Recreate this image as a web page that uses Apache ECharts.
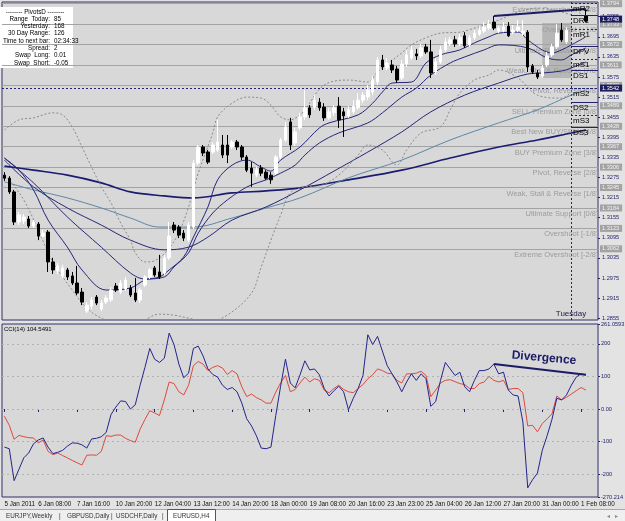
<!DOCTYPE html>
<html>
<head>
<meta charset="utf-8">
<script src="https://cdn.jsdelivr.net/npm/echarts@6/dist/echarts.min.js"></script>
<style>
html, body { margin: 0; padding: 0; background: #e3e3e3; }
#chart { width: 625px; height: 521px; }
</style>
</head>
<body>
<div id="chart"></div>
<script>
// EURUSD H4 - candles, moving averages, bollinger, murrey lines, CCI(14)
const slotCount = 123;
const tickBars = [0, 7, 15, 23, 31, 39, 47, 55, 63, 71, 79, 87, 95, 103, 111, 119];
const tickLabels = ['5 Jan 2011', '6 Jan 08:00', '7 Jan 16:00', '10 Jan 20:00', '12 Jan 04:00',
  '13 Jan 12:00', '14 Jan 20:00', '18 Jan 00:00', '19 Jan 08:00', '20 Jan 16:00', '23 Jan 23:00',
  '25 Jan 04:00', '26 Jan 12:00', '27 Jan 20:00', '31 Jan 00:00', '1 Feb 08:00'];

// [open, close, low, high]; bars hidden behind the pivot labels are left empty
const candles = [
  [1.3282,1.3273,1.3265,1.3291],[1.3273,1.3232,1.3226,1.3279],[1.3232,1.3142,1.3133,1.3238],
  [1.3142,1.3163,1.3133,1.3172],[1.3145,1.3157,1.3136,1.3166],[1.3151,1.3130,1.3124,1.3160],
  [1.3130,1.3142,1.3124,1.3148],[1.3136,1.3100,1.3088,1.3142],[1.3100,1.3109,1.3094,1.3118],
  [1.3112,1.3023,1.2993,1.3118],[1.3023,1.2999,1.2987,1.3035],[1.2996,1.3011,1.2987,1.3020],
  [1.2981,1.3005,1.2975,1.3014],[1.2999,1.2978,1.2969,1.3005],[1.2981,1.2960,1.2954,1.2993],
  [1.2960,1.2930,1.2924,1.3011],[1.2933,1.2903,1.2894,1.2945],[1.2876,1.2894,1.2870,1.2903],
  [1.2891,1.2909,1.2882,1.2918],[1.2918,1.2900,1.2894,1.2924],[1.2882,1.2900,1.2876,1.2909],
  [1.2903,1.2915,1.2897,1.2924],[1.2909,1.2939,1.2903,1.2948],[1.2951,1.2939,1.2933,1.2960],
  [1.2933,1.2960,1.2927,1.2969],[1.2942,1.2969,1.2936,1.2978],[1.2945,1.2924,1.2918,1.2954],
  [1.2930,1.2909,1.2903,1.2975],[1.2909,1.2939,1.2900,1.2945],[1.2954,1.2978,1.2948,1.2984],
  [1.2978,1.2999,1.2972,1.3005],[1.3005,1.2984,1.2978,1.3011],[1.2993,1.2978,1.2972,1.3044],
  [1.2990,1.3035,1.2984,1.3044],[1.3035,1.3100,1.3029,1.3142],[1.3133,1.3118,1.3109,1.3142],
  [1.3127,1.3103,1.3094,1.3133],[1.3109,1.3094,1.3085,1.3118],[1.3088,1.3133,1.3082,1.3142],
  [1.3127,1.3318,1.3121,1.3327],[1.3318,1.3366,1.3312,1.3372],[1.3366,1.3348,1.3339,1.3372],
  [1.3351,1.3321,1.3315,1.3357],[1.3351,1.3372,1.3345,1.3381],[1.3357,1.3381,1.3351,1.3447],
  [1.3372,1.3342,1.3333,1.3402],[1.3372,1.3342,1.3318,1.3402],[1.3366,1.3381,1.3360,1.3387],
  [1.3381,1.3366,1.3357,1.3387],[1.3366,1.3336,1.3327,1.3372],[1.3336,1.3297,1.3291,1.3342],
  [1.3303,1.3288,1.3247,1.3321],[1.3282,1.3297,1.3276,1.3306],[1.3303,1.3288,1.3279,1.3312],
  [1.3291,1.3273,1.3268,1.3297],[1.3282,1.3268,1.3256,1.3291],[1.3288,1.3336,1.3282,1.3342],
  [1.3336,1.3387,1.3330,1.3393],[1.3387,1.3426,1.3381,1.3441],[1.3441,1.3372,1.3357,1.3453],
  [1.3378,1.3411,1.3369,1.3423],[1.3423,1.3456,1.3417,1.3468],[1.3456,1.3483,1.3447,1.3536],
  [1.3483,1.3462,1.3453,1.3491],[1.3485,1.3506,1.3477,1.3521],[1.3500,1.3483,1.3474,1.3512],
  [1.3485,1.3453,1.3444,1.3497],[1.3453,1.3471,1.3447,1.3483],[1.3468,1.3483,1.3459,1.3491],
  [1.3488,1.3447,1.3423,1.3515],[1.3471,1.3459,1.3396,1.3483],[1.3459,1.3477,1.3453,1.3488],
  [1.3471,1.3488,1.3465,1.3506],[1.3483,1.3506,1.3477,1.3527],[1.3506,1.3521,1.3497,1.3530],
  [1.3515,1.3536,1.3506,1.3551],[1.3530,1.3566,1.3521,1.3578],[1.3560,1.3626,1.3551,1.3635],
  [1.3626,1.3605,1.3596,1.3641],[1.3602,1.3617,1.3596,1.3632],[1.3611,1.3596,1.3587,1.3626],
  [1.3599,1.3566,1.3557,1.3608],[1.3572,1.3614,1.3566,1.3626],[1.3614,1.3641,1.3605,1.3656],
  [1.3632,1.3656,1.3626,1.3668],[1.3644,1.3638,1.3626,1.3659],[1.3638,1.3662,1.3632,1.3674],
  [1.3665,1.3650,1.3644,1.3674],[1.3650,1.3587,1.3572,1.3686],[1.3590,1.3620,1.3581,1.3632],
  [1.3620,1.3656,1.3614,1.3668],[1.3656,1.3680,1.3650,1.3692],[1.3674,1.3686,1.3668,1.3695],
  [1.3686,1.3674,1.3665,1.3698],[1.3674,1.3692,1.3668,1.3703],[1.3698,1.3668,1.3662,1.3709],
  [1.3671,1.3692,1.3665,1.3700],[1.3692,1.3706,1.3686,1.3715],[1.3703,1.3715,1.3698,1.3727],
  [1.3712,1.3724,1.3706,1.3739],[1.3721,1.3733,1.3715,1.3745],[1.3739,1.3721,1.3715,1.3757],
  [1.3712,1.3721,1.3706,1.3727],[1.3715,1.3724,1.3709,1.3739],[1.3727,1.3698,1.3695,1.3739],
  [1.3709,1.3715,1.3703,1.3730],[1.3715,1.3724,1.3709,1.3745],[1.3706,1.3712,1.3698,1.3745],
  [1.3709,1.3605,1.3590,1.3715],[1.3608,1.3590,1.3584,1.3614],[1.3587,1.3575,1.3569,1.3596],
  [1.3578,1.3602,1.3572,1.3611],[1.3611,1.3638,1.3605,1.3650],[1.3641,1.3665,1.3635,1.3674],
  [1.3665,1.3706,1.3659,1.3733],[1.3715,1.3686,1.3680,1.3736],[1.3680,1.3715,1.3674,1.3724],
  ['-','-','-','-'], ['-','-','-','-'], ['-','-','-','-'],
  [1.3757,1.3742,1.3739,1.3778]
];

// moving averages, read as [bar, price]
const maFast = [[0,1.3333],[3,1.3297],[6,1.3238],[9,1.3148],[13,1.3067],[16,1.2999],[21,1.2939],
  [26,1.2945],[29,1.2969],[32,1.2978],[34,1.2999],[37,1.3038],[39,1.3097],[42,1.3187],[44,1.3268],
  [47,1.3312],[50,1.3327],[53,1.3306],[55,1.3294],[57,1.3327],[61,1.3366],[65,1.3423],[67,1.3438],
  [73,1.3462],[76,1.3497],[78,1.3530],[80,1.3557],[84,1.3560],[87,1.3617],[90,1.3641],[94,1.3656],
  [97,1.3677],[100,1.3695],[102,1.3706],[106,1.3709],[108,1.3686],[111,1.3656],[113,1.3647],
  [115,1.3656],[117,1.3671],[120,1.3695]];
const maMid = [[0,1.3333],[6,1.3259],[13,1.3157],[20,1.3067],[26,1.2990],[29,1.2972],[33,1.2978],
  [35,1.3008],[38,1.3050],[40,1.3109],[43,1.3169],[46,1.3208],[49,1.3238],[51,1.3253],[54,1.3268],
  [57,1.3288],[60,1.3312],[62,1.3342],[65,1.3378],[69,1.3408],[75,1.3438],[78,1.3468],[82,1.3515],
  [85,1.3542],[88,1.3581],[92,1.3617],[95,1.3635],[99,1.3656],[102,1.3671],[108,1.3662],
  [112,1.3632],[115,1.3626],[117,1.3641],[120,1.3662]];
const maSlow = [[0,1.3327],[6,1.3247],[13,1.3184],[20,1.3133],[26,1.3088],[33,1.3059],[38,1.3067],
  [42,1.3097],[47,1.3148],[54,1.3187],[61,1.3238],[68,1.3294],[75,1.3351],[82,1.3411],[88,1.3471],
  [95,1.3521],[102,1.3557],[108,1.3584],[111,1.3587],[115,1.3593],[117,1.3602],[120,1.3620]];
const maSteel = [[0,1.3262],[6,1.3238],[13,1.3214],[20,1.3184],[26,1.3154],[32,1.3127],[39,1.3127],
  [47,1.3154],[54,1.3184],[61,1.3214],[71,1.3274],[82,1.3327],[92,1.3387],[102,1.3438],
  [110,1.3477],[117,1.3521],[120,1.3536]];
const maLong = [[0,1.3309],[6,1.3297],[13,1.3282],[20,1.3259],[26,1.3232],[33,1.3220],[39,1.3214],
  [47,1.3229],[54,1.3235],[61,1.3244],[71,1.3268],[82,1.3297],[92,1.3333],[102,1.3366],
  [110,1.3387],[117,1.3408],[120,1.3417]];
const bandUpper = [[0,1.3417],[3,1.3447],[6,1.3453],[10,1.3468],[12,1.3462],[14,1.3426],[16,1.3366],
  [18,1.3306],[20,1.3247],[22,1.3199],[24,1.3139],[26,1.3088],[27,1.3050],[29,1.3023],[30,1.3023],
  [32,1.3035],[34,1.3064],[36,1.3110],[38,1.3187],[40,1.3288],[43,1.3408],[44,1.3456],[47,1.3497],
  [50,1.3515],[53,1.3512],[55,1.3491],[57,1.3456],[59,1.3447],[61,1.3462],[62,1.3477],[66,1.3551],
  [71,1.3566],[75,1.3560],[77,1.3590],[82,1.3647],[84,1.3671],[87,1.3692],[90,1.3706],[94,1.3709],
  [97,1.3721],[102,1.3745],[106,1.3769],[110,1.3781],[115,1.3769],[117,1.3760]];
const bandLower = [[0,1.3282],[1,1.3268],[4,1.3208],[7,1.3118],[10,1.3023],[14,1.2939],[17,1.2885],
  [20,1.2855],[24,1.2835],[28,1.2844],[32,1.2867],[35,1.2864],[38,1.2855],[42,1.2844],[46,1.2864],
  [51,1.2930],[53,1.3008],[55,1.3088],[57,1.3163],[59,1.3229],[62,1.3247],[65,1.3250],[69,1.3282],
  [73,1.3342],[75,1.3372],[78,1.3357],[81,1.3312],[83,1.3357],[86,1.3408],[90,1.3426],[92,1.3477],
  [94,1.3527],[97,1.3566],[100,1.3581],[102,1.3596],[106,1.3572],[110,1.3521],[115,1.3512],[117,1.3530]];

const cciMain = [-117,-122,-220,-185,-150,-135,-107,-95,-89,-117,
  -137,-133,-127,-114,-104,-105,-110,-120,-92,-90,
  -85,-72,-17,6,25,23,0,13,73,128,
  186,153,143,156,233,198,138,96,110,186,
  193,163,123,106,98,73,60,66,53,18,
  -30,-52,-82,-120,-122,-117,-20,70,153,80,
  65,105,148,120,123,105,63,40,56,70,
  53,-2,33,63,103,228,198,223,178,133,
  108,83,53,83,108,88,108,93,8,23,
  88,143,123,103,113,68,53,88,118,118,
  123,138,108,113,58,43,40,-40,-242,-217,
  -197,-127,-82,-32,33,28,43,73,98,108,104.5491];
const cciSignal = [-22,-50,-93,-81,-85,-88,-89,-104,-95,-130,
  -140,-135,-143,-150,-158,-165,-172,-142,-141,-142,
  -130,-82,-84,-80,-80,-90,-97,-102,-62,-32,
  -5,-12,-20,28,83,78,53,43,73,133,
  146,138,118,128,133,126,106,118,108,68,
  38,46,35,28,18,18,52,80,103,53,
  60,80,98,83,93,88,58,50,63,73,
  60,53,50,63,75,93,105,123,118,110,
  108,88,80,108,108,110,116,103,38,58,
  80,88,90,84,78,75,63,63,78,83,
  100,88,83,88,60,63,63,50,-52,-50,
  -70,-45,-30,-15,40,28,36,46,56,66,58];

const priceTicks = [1.2855,1.2915,1.2975,1.3035,1.3095,1.3155,1.3215,1.3275,1.3335,1.3395,
  1.3455,1.3515,1.3575,1.3635,1.3695,1.3755];
const murreyLevels = [1.3794,1.3733,1.3672,1.3611,1.3550,1.3489,1.3428,1.3367,1.3306,1.3245,1.3184,1.3123,1.3062];
const murreyNames = ['Extreme Overshoot [+2/8]','Overshoot [+1/8]','Ultimate Resistance [8/8]',
  'Weak, Stall & Reverse [7/8]','Pivot, Reverse [6/8]','SELL Premium Zone [5/8]',
  'Best New BUY/SELL [4/8]','BUY Premium Zone [3/8]','Pivot, Reverse [2/8]',
  'Weak, Stall & Reverse [1/8]','Ultimate Support [0/8]','Overshoot [-1/8]','Extreme Overshoot [-2/8]'];
const pivotNames = ['mR2','DR1','mR1','DPV','mS1','DS1','mS2','DS2','mS3','DS3'];
const pivotPrices = [1.3796,1.3760,1.3718,1.3668,1.3629,1.3596,1.3542,1.3500,1.3462,1.3426];
const markedPrices = [1.3748, 1.3542];
const cciTicks = [-270.214,-200,-100,0,100,200,261.0593];
const infoLabels = ['Range  Today:','Yesterday:','30 Day Range:','Time to next bar:','Spread:','Swap  Long:','Swap  Short:'];
const infoValues = ['85','168','126','02:34:33','2','0.01','-0.05'];

const priceMin = 1.28495, priceMax = 1.37990;
const sepBar = 117;
const navy = '#22226e';
const font = 'Liberation Sans';

const cats = [];
for (let i = 0; i < slotCount; i++) cats.push(String(i));
const isTick = (idx) => tickBars.indexOf(idx) >= 0;

function maSeries(data, color, width) {
  return {
    type: 'line', xAxisIndex: 0, yAxisIndex: 0, data: data, smooth: 0.35,
    showSymbol: false, silent: true, lineStyle: { color: color, width: width }, z: 3
  };
}
function bandSeries(data) {
  return {
    type: 'line', xAxisIndex: 0, yAxisIndex: 0, data: data, smooth: 0.35,
    showSymbol: false, silent: true, lineStyle: { color: '#8a8a8a', width: 1, type: [2, 2] }, z: 3
  };
}
function priceAxis(values, extra) {
  return Object.assign({ type: 'value', gridIndex: 0, position: 'right', min: priceMin, max: priceMax,
    axisLine: { show: false }, splitLine: { show: false }, axisTick: { show: false } }, extra, {
    axisLabel: Object.assign({ customValues: values, formatter: (v) => v.toFixed(4), fontSize: 5.6 }, extra.axisLabel)
  });
}

const murreyMarks = murreyLevels.map((v, k) => ({ yAxis: v, name: murreyNames[k] }));

const option = {
  animation: false,
  backgroundColor: '#e3e3e3',
  textStyle: { fontFamily: font },
  grid: [
    { left: 2, top: 2, width: 596, height: 318, show: true, backgroundColor: '#d8d8d8', borderColor: '#30306a',
      borderWidth: 1, containLabel: false, outerBoundsMode: 'none' },
    { left: 2, top: 324, width: 596, height: 173, show: true, backgroundColor: '#d8d8d8', borderColor: '#30306a',
      borderWidth: 1, containLabel: false, outerBoundsMode: 'none' }
  ],
  xAxis: [
    { type: 'category', gridIndex: 0, data: cats, boundaryGap: true, axisLine: { show: false },
      axisTick: { show: false }, axisLabel: { show: false }, splitLine: { show: false } },
    { type: 'category', gridIndex: 1, data: cats, boundaryGap: true, axisLine: { show: false },
      axisTick: { show: true, interval: isTick, alignWithLabel: true, length: 3, lineStyle: { color: navy } },
      axisLabel: { interval: isTick, align: 'left', margin: 4, fontSize: 6.3, color: '#111',
        hideOverlap: false, showMinLabel: true, showMaxLabel: true,
        formatter: (v, idx) => tickLabels[tickBars.indexOf(idx)] || '' },
      splitLine: { show: false } }
  ],
  yAxis: [
    priceAxis(priceTicks, { axisTick: { show: true, customValues: priceTicks, length: 2, lineStyle: { color: navy } },
      axisLabel: { color: '#1d1d66', margin: 4 } }),
    priceAxis(murreyLevels, { axisLabel: { color: '#f2f2f2', backgroundColor: '#a3a3a3', padding: [1, 3, 0, 2], margin: 2 } }),
    { type: 'value', gridIndex: 1, position: 'right', min: -270.214, max: 261.0593,
      axisLine: { show: false }, splitLine: { show: false },
      axisTick: { show: true, customValues: cciTicks, length: 2, lineStyle: { color: navy } },
      axisLabel: { customValues: cciTicks, fontSize: 5.6, color: '#1d1d66', margin: 3,
        formatter: (v) => v === 0 ? '0.00' : String(v) } },
    priceAxis(markedPrices, { axisLabel: { color: '#ffffff', backgroundColor: '#1c1c5e', padding: [1, 3, 0, 2], margin: 2 } })
  ],
  series: [
    {
      type: 'candlestick', xAxisIndex: 0, yAxisIndex: 0, data: candles, barWidth: 3, z: 4,
      itemStyle: { color: '#ffffff', color0: '#000000', borderColor: '#ffffff', borderColor0: '#000000', borderWidth: 1 },
      markArea: { silent: true, z: 1, itemStyle: { color: '#b6b6b6' },
        data: [[{ xAxis: 111, yAxis: 1.3736 }, { xAxis: 117, yAxis: 1.3572 }]] },
      markLine: { silent: true, symbol: 'none', z: 2, precision: 5,
        lineStyle: { color: '#a3a3a3', width: 1, type: 'solid' },
        label: { show: true, position: 'insideEndBottom', formatter: '{b}', color: '#9c9c9c',
          fontSize: 7.5, distance: [0, 2] },
        data: murreyMarks.concat([
          { yAxis: pivotPrices[6], label: { show: false }, lineStyle: { color: navy, type: [2, 2] } },
          { xAxis: sepBar, label: { show: false }, lineStyle: { color: navy, type: [2, 2] } }
        ]) }
    },
    maSeries(maLong, '#1b1b70', 1.6),
    maSeries(maSteel, '#5d87a6', 1),
    maSeries(maSlow, '#26267a', 1),
    maSeries(maMid, '#26267a', 1),
    maSeries(maFast, '#26267a', 1),
    bandSeries(bandUpper),
    bandSeries(bandLower),
    { type: 'line', xAxisIndex: 0, yAxisIndex: 0, data: [[101, 1.3757], [120, 1.3778]],
      showSymbol: false, silent: true, lineStyle: { color: '#1b1b66', width: 2 }, z: 5 },
    { type: 'line', xAxisIndex: 1, yAxisIndex: 2, data: cciSignal, showSymbol: false, silent: true,
      lineStyle: { color: '#dd4a3e', width: 1 }, z: 3,
      markLine: { silent: true, symbol: 'none', z: 1, label: { show: false },
        lineStyle: { color: '#b2b2b2', width: 1, type: [2, 3] },
        data: [{ yAxis: 200 }, { yAxis: 100 }, { yAxis: 0 }, { yAxis: -100 }, { yAxis: -200 }] } },
    { type: 'line', xAxisIndex: 1, yAxisIndex: 2, data: cciMain, showSymbol: false, silent: true,
      lineStyle: { color: '#24248c', width: 1 }, z: 4 },
    { type: 'line', xAxisIndex: 1, yAxisIndex: 2, data: [[101, 138], [120, 105]],
      showSymbol: false, silent: true, lineStyle: { color: '#1b1b66', width: 2 }, z: 5 }
  ]
};

const chart = echarts.init(document.getElementById('chart'), null, { renderer: 'canvas' });
chart.setOption(option);

// annotations placed from data coordinates
const toPx = (i, p) => chart.convertToPixel({ xAxisIndex: 0, yAxisIndex: 0 }, [i, p]);
const sepX = Math.round(toPx(sepBar, priceMin)[0]);
const rightX = 598;
const g = [];

pivotNames.forEach((name, k) => {
  const y = Math.round(toPx(sepBar, pivotPrices[k])[1]) + 0.5;
  const solid = name.charAt(0) === 'D';
  g.push({ type: 'line', z: 20, silent: true, shape: { x1: sepX, y1: y, x2: rightX, y2: y },
    style: { stroke: navy, lineWidth: 1, lineDash: solid ? null : [2, 2] } });
  g.push({ type: 'text', z: 21, silent: true, x: sepX + 2, y: y + 1,
    style: { text: name, fill: '#000', font: '8px ' + font } });
  g.push({ type: 'text', z: 21, silent: true, x: rightX - 5, y: y + 1,
    style: { text: pivotPrices[k].toFixed(4), fill: '#000', font: '8px ' + font,
      width: 4, overflow: 'truncate', ellipsis: '' } });
});

// info panel
g.push({ type: 'rect', z: 1, silent: true, shape: { x: 0, y: 7, width: 73, height: 61 }, style: { fill: '#ffffff' } });
g.push({ type: 'text', z: 2, silent: true, x: 35, y: 12, style: { text: '-------- PivotsD --------', fill: '#000',
  font: '6.3px ' + font, align: 'center', verticalAlign: 'middle' } });
infoLabels.forEach((t, k) => {
  const y = 19 + k * 7.3;
  g.push({ type: 'text', z: 2, silent: true, x: 50, y: y, style: { text: t, fill: '#000', font: '6.3px ' + font,
    align: 'right', verticalAlign: 'middle' } });
  g.push({ type: 'text', z: 2, silent: true, x: 54, y: y, style: { text: infoValues[k], fill: '#000', font: '6.3px ' + font,
    align: 'left', verticalAlign: 'middle' } });
});

g.push({ type: 'text', z: 20, silent: true, x: sepX, y: 318, style: { text: 'Tuesday', fill: '#1a1a40',
  font: '8px ' + font, align: 'center', verticalAlign: 'bottom' } });
g.push({ type: 'text', z: 20, silent: true, x: 4, y: 329, style: { text: 'CCI(14) 104.5491', fill: '#000',
  font: '6px ' + font, verticalAlign: 'middle' } });
g.push({ type: 'text', z: 20, silent: true, x: 544, y: 358, rotation: -0.09, style: { text: 'Divergence',
  fill: '#1b1b66', font: 'bold 12px ' + font, align: 'center', verticalAlign: 'middle' } });

// bottom tab strip
g.push({ type: 'rect', z: 1, silent: true, shape: { x: 0, y: 509, width: 625, height: 12 }, style: { fill: '#efefef' } });
g.push({ type: 'line', z: 2, silent: true, shape: { x1: 0, y1: 509.5, x2: 625, y2: 509.5 }, style: { stroke: '#a8a8a8' } });
g.push({ type: 'rect', z: 2, silent: true, shape: { x: 167.5, y: 509.5, width: 48, height: 12 }, style: { fill: '#ffffff', stroke: '#555' } });
[['EURJPY,Weekly', 6], ['|', 59], ['GBPUSD,Daily', 67], ['|', 111], ['USDCHF,Daily', 116], ['|', 162], ['EURUSD,H4', 173]].forEach((t) => {
  g.push({ type: 'text', z: 3, silent: true, x: t[1], y: 516, style: { text: t[0], fill: '#333',
    font: '6.3px ' + font, verticalAlign: 'middle' } });
});
g.push({ type: 'text', z: 3, silent: true, x: 607, y: 516, style: { text: '\u25C2   \u25B8', fill: '#888',
  font: '6px ' + font, verticalAlign: 'middle' } });

chart.setOption({ graphic: { elements: g } });
</script>
</body>
</html>
